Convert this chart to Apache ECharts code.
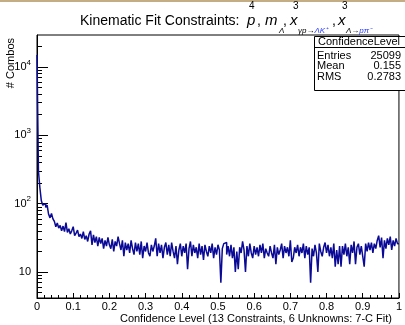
<!DOCTYPE html>
<html>
<head>
<meta charset="utf-8">
<script src="https://cdn.jsdelivr.net/npm/echarts@6.0.0/dist/echarts.min.js"></script>
<style>
  html, body { margin: 0; padding: 0; background: #ffffff; }
  #chart { width: 405px; height: 325px; }
</style>
</head>
<body>
<div id="chart"></div>
<script>
// histogram: 250 bins from 0 to 1
const binWidth = 0.004;
const counts = [
  15000, 300, 170, 110, 95, 100, 88, 95, 70, 62,
  72, 60, 55, 46, 52, 44, 48, 40, 47, 39,
  53, 38, 43, 36, 40, 46, 34, 37, 41, 33,
  36, 31, 39, 30, 34, 28, 36, 40, 25, 35,
  27, 33, 24, 32, 26, 31, 22, 29, 24, 32,
  25, 22, 30, 20, 28, 24, 33, 26, 21, 29,
  17, 27, 21, 26, 19, 29, 22, 18, 27, 20,
  26, 18, 28, 16, 24, 20, 27, 19, 17, 25,
  20, 24, 31, 17, 26, 19, 25, 16, 23, 27,
  18, 25, 17, 27, 20, 16, 24, 13, 21, 26,
  17, 24, 19, 26, 11, 22, 28, 17, 25, 19,
  23, 16, 26, 18, 24, 15, 25, 20, 17, 24,
  19, 26, 16, 23, 18, 25, 21, 7, 22, 26,
  27, 18, 24, 17, 25, 16, 23, 10, 20, 11,
  23, 19, 28, 21, 10, 24, 17, 26, 19, 16,
  24, 18, 23, 17, 25, 19, 26, 16, 22, 19,
  17, 24, 19, 16, 25, 13, 23, 18, 21, 26,
  16, 24, 19, 23, 17, 29, 14, 16, 23, 19,
  25, 17, 23, 19, 26, 16, 24, 18, 23, 7,
  22, 17, 25, 19, 10, 26, 20, 17, 23, 27,
  19, 25, 17, 23, 16, 26, 12, 21, 13, 24,
  12, 24, 18, 26, 17, 23, 13, 25, 19, 28,
  13, 23, 26, 18, 24, 17, 12, 26, 20, 27,
  21, 27, 19, 26, 22, 29, 34, 23, 32, 16,
  29, 22, 31, 25, 33, 21, 29, 24, 31, 26
];

const yMajor = [10, 100, 1000, 10000];
const yMinor = [5, 6, 7, 8, 9, 20, 30, 40, 50, 60, 70, 80, 90,
  200, 300, 400, 500, 600, 700, 800, 900,
  2000, 3000, 4000, 5000, 6000, 7000, 8000, 9000, 20000];
const yMin = 4.17;
const yMax = 29300;

const statNames = ['Entries', 'Mean', 'RMS'];
const statValues = ['25099', '0.155', '0.2783'];

const font = 'Liberation Sans, Arial, sans-serif';
const chartDom = document.getElementById('chart');
const myChart = echarts.init(chartDom, null, { renderer: 'canvas' });

const histData = counts.map((c, i) => [i * binWidth, c]);
histData.push([counts.length * binWidth, counts[counts.length - 1]]);

const statRows = statNames.map((name, i) => [
  { type: 'text', left: 317, top: 50 + i * 10.7,
    style: { text: name, fontFamily: font, fontSize: 11, fill: '#000' } },
  { type: 'text', right: 4, top: 50 + i * 10.7,
    style: { text: statValues[i], fontFamily: font, fontSize: 11, fill: '#000' } }
]).flat();

const option = {
  animation: false,
  backgroundColor: '#ffffff',
  grid: {
    left: 37, right: 1, top: 35, bottom: 27,
    show: true, borderColor: '#000', borderWidth: 1
  },
  xAxis: {
    type: 'value',
    min: 0, max: 1, interval: 0.1,
    axisLine: { onZero: false, lineStyle: { color: '#000', width: 1 } },
    axisTick: { inside: true, length: 5, lineStyle: { color: '#000' } },
    minorTick: { show: true, splitNumber: 5, length: 3, lineStyle: { color: '#000' } },
    axisLabel: {
      color: '#000', fontSize: 11, fontFamily: font, margin: 3,
      formatter: v => String(Math.round(v * 10) / 10)
    },
    splitLine: { show: false }
  },
  yAxis: [
    {
      type: 'log', logBase: 10, min: yMin, max: yMax,
      axisLine: { lineStyle: { color: '#000', width: 1 } },
      axisTick: { inside: true, length: 11, customValues: yMajor, lineStyle: { color: '#000' } },
      axisLabel: {
        customValues: yMajor,
        color: '#000', fontSize: 11, fontFamily: font, margin: 6,
        formatter: v => v === 10 ? '10' : '10{s|' + Math.round(Math.log10(v)) + '}',
        rich: { s: { fontSize: 8, fontFamily: font, color: '#000', padding: [0, 0, 9, 0] } }
      },
      splitLine: { show: false }
    },
    {
      type: 'log', logBase: 10, min: yMin, max: yMax, position: 'left',
      axisLine: { show: false },
      axisTick: { inside: true, length: 5, customValues: yMinor, lineStyle: { color: '#000' } },
      axisLabel: { show: false },
      splitLine: { show: false }
    }
  ],
  series: [
    {
      name: 'ConfidenceLevel',
      type: 'line',
      step: 'end',
      data: histData,
      symbol: 'none',
      lineStyle: { color: '#0a0a96', width: 1.5 },
      clip: true
    }
  ],
  graphic: [
    { type: 'rect', shape: { x: 0, y: 0, width: 405, height: 2 }, style: { fill: '#c4ad84' } },
    { type: 'text', x: 80, y: 21,
      style: { text: 'Kinematic Fit Constraints:', fontFamily: font, fontSize: 14, fill: '#000', verticalAlign: 'middle' } },
    { type: 'text', x: 247, y: 21,
      style: { text: 'p', fontFamily: font, fontStyle: 'italic', fontSize: 15, fill: '#000', verticalAlign: 'middle' } },
    { type: 'text', x: 249, y: 6,
      style: { text: '4', fontFamily: font, fontSize: 10, fill: '#000', verticalAlign: 'middle' } },
    { type: 'text', x: 257, y: 21,
      style: { text: ',', fontFamily: font, fontSize: 14, fill: '#000', verticalAlign: 'middle' } },
    { type: 'text', x: 265, y: 21,
      style: { text: 'm', fontFamily: font, fontStyle: 'italic', fontSize: 15, fill: '#000', verticalAlign: 'middle' } },
    { type: 'text', x: 279, y: 31,
      style: { text: 'Λ', fontFamily: font, fontStyle: 'italic', fontSize: 8, fill: '#000', verticalAlign: 'middle' } },
    { type: 'text', x: 283, y: 21,
      style: { text: ',', fontFamily: font, fontSize: 14, fill: '#000', verticalAlign: 'middle' } },
    { type: 'text', x: 290, y: 21,
      style: { text: 'x', fontFamily: font, fontStyle: 'italic', fontSize: 15, fill: '#000', verticalAlign: 'middle' } },
    { type: 'text', x: 293, y: 6,
      style: { text: '3', fontFamily: font, fontSize: 10, fill: '#000', verticalAlign: 'middle' } },
    { type: 'text', x: 298, y: 31,
      style: { text: '{a|γp→}{b|ΛK⁺}', fontFamily: font, fontStyle: 'italic', fontSize: 8, verticalAlign: 'middle',
        rich: { a: { fill: '#000', fontSize: 8, fontStyle: 'italic' }, b: { fill: '#2a3cff', fontSize: 8, fontStyle: 'italic' } } } },
    { type: 'text', x: 332, y: 21,
      style: { text: ',', fontFamily: font, fontSize: 14, fill: '#000', verticalAlign: 'middle' } },
    { type: 'text', x: 338, y: 21,
      style: { text: 'x', fontFamily: font, fontStyle: 'italic', fontSize: 15, fill: '#000', verticalAlign: 'middle' } },
    { type: 'text', x: 342, y: 6,
      style: { text: '3', fontFamily: font, fontSize: 10, fill: '#000', verticalAlign: 'middle' } },
    { type: 'text', x: 346, y: 31,
      style: { text: '{a|Λ→}{b|pπ⁻}', fontFamily: font, fontStyle: 'italic', fontSize: 8, verticalAlign: 'middle',
        rich: { a: { fill: '#000', fontSize: 8, fontStyle: 'italic' }, b: { fill: '#2a3cff', fontSize: 8, fontStyle: 'italic' } } } },
    { type: 'text', x: 11, y: 38, rotation: Math.PI / 2,
      style: { text: '# Combos', fontFamily: font, fontSize: 11, fill: '#000', align: 'right', verticalAlign: 'middle' } },
    { type: 'text', x: 392, y: 319,
      style: { text: 'Confidence Level (13 Constraints, 6 Unknowns: 7-C Fit)', fontFamily: font, fontSize: 11, fill: '#000', align: 'right', verticalAlign: 'middle' } },
    { type: 'rect', shape: { x: 314.5, y: 36.5, width: 96, height: 54 },
      style: { fill: '#fff', stroke: '#000', lineWidth: 1 } },
    { type: 'line', shape: { x1: 314.5, y1: 47.5, x2: 405, y2: 47.5 }, style: { stroke: '#000', lineWidth: 1 } },
    { type: 'text', x: 359, y: 42,
      style: { text: 'ConfidenceLevel', fontFamily: font, fontSize: 11, fill: '#000', align: 'center', verticalAlign: 'middle' } },
    ...statRows
  ]
};

myChart.setOption(option);
window.addEventListener('resize', () => myChart.resize());
</script>
</body>
</html>
